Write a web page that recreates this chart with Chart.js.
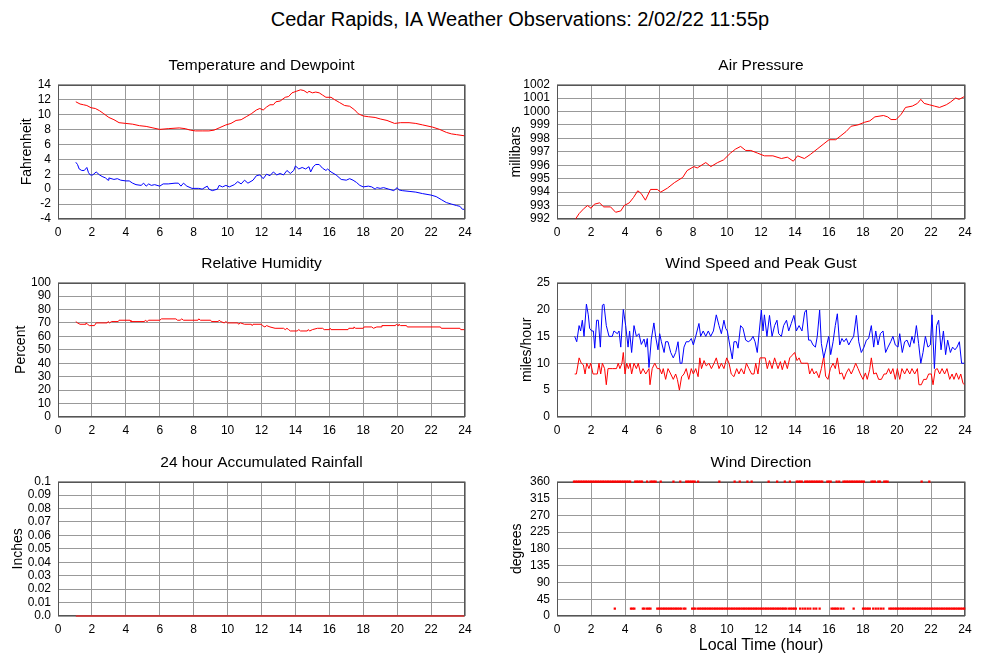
<!DOCTYPE html>
<html>
<head>
<meta charset="utf-8">
<script src="https://cdn.jsdelivr.net/npm/chart.js@4.4.1/dist/chart.umd.min.js"></script>
<style>
  body { margin: 0; background: #fff; width: 1000px; height: 660px; position: relative; overflow: hidden;
         font-family: "Liberation Sans", Arial, sans-serif; color: #000; }
  canvas { position: absolute; }
  #title { position: absolute; left: 0; width: 1040px; top: 7px; text-align: center; font-size: 20px; line-height: 24px; }
  #xlab { position: absolute; left: 661px; width: 200px; top: 636px; text-align: center; font-size: 16px; line-height: 18px; }
</style>
</head>
<body>
<div id="title">Cedar Rapids, IA Weather Observations: 2/02/22 11:55p</div>
<canvas id="temp" width="480" height="194" style="left:0;top:50px"></canvas>
<canvas id="pres" width="500" height="194" style="left:490px;top:50px"></canvas>
<canvas id="rh" width="480" height="194" style="left:0;top:248px"></canvas>
<canvas id="wind" width="500" height="194" style="left:490px;top:248px"></canvas>
<canvas id="rain" width="480" height="194" style="left:0;top:447px"></canvas>
<canvas id="dir" width="500" height="194" style="left:490px;top:447px"></canvas>
<div id="xlab">Local Time (hour)</div>
<script>
// ---- data (hours after midnight, local time) ----
const tempTime = [1.05,1.3,1.5,1.7,1.95,2.2,2.45,2.7,3.0,3.3,3.6,4.0,4.4,4.8,5.2,5.6,6.0,6.5,7.15,7.5,7.8,8.1,8.5,8.9,9.2,9.5,9.9,10.2,10.5,10.8,11.1,11.4,11.7,11.9,12.1,12.3,12.5,12.7,12.85,13.1,13.4,13.6,13.8,14.05,14.3,14.5,14.7,14.8,15.0,15.2,15.4,15.6,15.8,16.1,16.3,16.6,16.9,17.2,17.5,17.7,18.0,18.3,18.7,19.0,19.4,19.85,20.2,20.7,21.1,21.5,22.1,22.5,22.9,23.2,23.5,23.95];
const tempF = [11.7,11.4,11.3,11.2,10.9,10.8,10.5,10.1,9.6,9.3,8.9,8.8,8.7,8.5,8.4,8.2,8.0,8.1,8.2,8.1,7.9,7.8,7.8,7.8,7.9,8.2,8.6,8.8,9.2,9.3,9.7,10.1,10.6,10.8,10.6,11.0,11.3,11.3,11.7,11.8,12.3,12.4,12.9,13.1,13.3,13.2,12.9,13.1,12.9,13.0,12.9,12.6,12.3,12.3,12.0,11.6,11.2,11.1,10.6,10.1,9.8,9.7,9.6,9.4,9.2,8.8,8.9,8.9,8.8,8.6,8.3,8.0,7.6,7.4,7.3,7.15];

const dewTime = [1.05,1.15,1.25,1.4,1.55,1.7,1.8,1.9,2.05,2.25,2.45,2.6,2.8,2.95,3.0,3.3,3.5,3.7,4.0,4.2,4.4,4.6,4.9,5.05,5.2,5.35,5.5,5.7,6.0,6.2,6.5,6.9,7.1,7.25,7.4,7.6,7.9,8.3,8.5,8.8,8.9,9.1,9.4,9.5,9.7,9.9,10.1,10.4,10.6,10.8,11.0,11.2,11.5,11.7,11.9,12.1,12.3,12.5,12.7,12.9,13.1,13.3,13.5,13.7,13.9,14.0,14.2,14.4,14.6,14.8,14.9,15.05,15.2,15.4,15.6,15.8,15.9,16.1,16.4,16.7,17.0,17.2,17.4,17.6,17.8,18.0,18.3,18.5,18.7,18.8,19.0,19.2,19.5,19.8,20.0,20.1,20.3,20.7,21.1,21.5,22.0,22.3,22.6,22.9,23.2,23.5,23.7,23.85,23.95];
const dewF = [3.6,3.3,2.7,2.5,2.5,2.9,2.2,1.9,1.9,2.3,1.9,1.7,1.5,1.2,1.5,1.3,1.4,1.2,1.1,1.1,0.8,0.6,0.5,0.8,0.4,0.7,0.5,0.6,0.4,0.7,0.7,0.8,0.8,0.4,0.8,0.4,0.1,0.1,0.0,0.4,0.0,-0.2,0.0,0.5,0.3,0.5,0.3,0.6,1.0,0.7,1.2,0.8,1.2,1.8,1.9,1.4,2.0,1.8,2.3,1.9,2.1,1.9,2.5,2.1,2.5,3.1,2.7,2.9,2.7,3.0,2.3,3.0,3.3,3.3,2.8,2.5,2.7,2.3,1.9,1.3,1.2,1.4,1.2,0.9,0.5,0.3,0.4,0.3,0.0,0.2,0.1,0.2,0.0,-0.2,0.2,-0.1,-0.2,-0.3,-0.4,-0.6,-0.8,-1.0,-1.4,-1.8,-2.0,-2.2,-2.3,-2.7,-2.7];

const presTime = [1.04,1.3,1.6,1.8,2.0,2.2,2.5,2.75,3.15,3.45,3.75,3.95,4.25,4.5,4.75,4.95,5.2,5.5,5.9,6.1,6.5,6.9,7.4,7.65,8.05,8.25,8.75,9.05,9.45,9.8,10.2,10.5,10.8,11.1,11.4,11.8,12.2,12.7,13.2,13.55,13.9,14.15,14.55,14.9,15.3,15.7,16.0,16.4,16.7,17.0,17.3,17.7,18.1,18.4,18.7,19.2,19.45,19.65,19.95,20.25,20.5,20.9,21.2,21.4,21.6,21.9,22.2,22.5,22.9,23.15,23.45,23.65,23.95];
const presMb = [991.9,992.4,992.8,993.0,992.8,993.1,993.2,992.9,992.9,992.5,992.6,993.0,993.2,993.6,994.1,993.9,993.4,994.2,994.2,994.0,994.3,994.7,995.1,995.6,995.9,995.8,996.2,995.9,996.2,996.4,996.9,997.2,997.4,997.1,997.1,996.9,996.7,996.7,996.5,996.6,996.3,996.7,996.5,996.8,997.2,997.6,997.9,997.9,998.2,998.5,998.9,999.0,999.2,999.3,999.6,999.7,999.6,999.4,999.4,999.8,1000.3,1000.4,1000.6,1000.9,1000.6,1000.5,1000.4,1000.3,1000.5,1000.7,1001.0,1000.9,1001.1];

const rhTime = [1.05,1.15,1.3,1.6,1.65,1.75,1.85,2.15,2.25,2.9,2.95,3.05,3.15,3.55,3.6,4.25,4.3,5.1,5.15,5.25,5.35,6.0,6.1,6.95,7.05,7.2,7.3,7.4,8.25,8.3,8.4,9.0,9.05,9.45,9.5,9.6,9.8,9.9,10.0,10.6,10.65,10.75,11.0,11.4,11.45,11.5,12.0,12.05,12.2,12.3,12.5,12.8,13.3,13.4,13.5,13.6,13.7,14.1,14.2,14.3,14.7,14.75,14.85,15.0,15.3,15.6,15.7,16.0,16.05,16.1,17.1,17.15,17.4,17.45,17.55,18.0,18.05,18.5,18.6,18.8,19.05,19.1,19.9,19.95,20.05,20.1,20.2,20.55,20.6,22.55,22.6,23.7,23.75,23.95];
const rhPct = [71,70,69,69,70,69,68,68,70,70,71,70,71,71,72,72,71,71,72,71,72,72,73,73,72,72,73,72,72,73,72,72,71,71,72,71,70,71,70,70,69,70,69,69,68,69,69,68,67,68,67,66,66,65,66,65,64,64,65,64,64,65,64,65,66,66,65,65,66,65,65,66,66,67,66,66,67,67,66,67,67,68,68,69,68,69,68,68,67,67,66,66,65,65];

const gustTime = [1.04,1.16,1.3,1.39,1.49,1.59,1.73,1.84,1.92,2.04,2.14,2.22,2.33,2.43,2.55,2.67,2.76,2.9,3.06,3.25,3.35,3.55,3.65,3.75,3.9,4.04,4.18,4.27,4.39,4.53,4.67,4.82,4.96,5.12,5.22,5.31,5.41,5.55,5.7,5.8,5.94,6.04,6.14,6.3,6.39,6.53,6.69,6.84,6.98,7.12,7.24,7.35,7.47,7.6,7.76,7.9,8.02,8.16,8.35,8.45,8.6,8.75,8.9,9.04,9.2,9.37,9.53,9.67,9.82,9.92,10.02,10.16,10.31,10.41,10.55,10.65,10.8,10.94,11.1,11.25,11.4,11.53,11.65,11.78,11.9,12.02,12.12,12.2,12.35,12.5,12.65,12.8,12.94,13.04,13.2,13.33,13.5,13.63,13.78,13.94,14.08,14.24,14.41,14.57,14.67,14.8,14.92,15.06,15.2,15.31,15.45,15.55,15.69,15.84,15.98,16.1,16.24,16.37,16.49,16.63,16.76,16.88,17.02,17.16,17.31,17.45,17.61,17.75,17.9,18.06,18.2,18.33,18.49,18.63,18.75,18.88,19.02,19.18,19.33,19.47,19.63,19.76,19.9,20.06,20.16,20.31,20.45,20.59,20.75,20.88,21.0,21.14,21.27,21.4,21.53,21.67,21.82,21.96,22.06,22.2,22.33,22.45,22.59,22.73,22.86,22.98,23.14,23.27,23.41,23.53,23.67,23.8,23.96];
const gustMph = [15,14,17,16,18,15,21,19,16.5,16,16,12.8,18,18,13,20.8,21,17,15,15,16,15.5,16,13,20,17,13,16,12,17,15,15.5,13.5,14.5,13,14.6,9.2,14.5,17.5,15,12.5,15.5,14,12,14,14,12,11,12,14,10,10,13,14,14,14.6,13.4,15,17.4,15,16,15,16,15,16,19,17,15.5,18,16.5,16,13.4,10.8,14,14,12.8,17,16.5,14.3,14,14.3,15,14,12,16,19.9,16,19,15,18.9,15,17,18,15.5,15,17,18,16,17.4,18.9,16,17,16,19.5,19.9,14.3,14.3,13.4,13,15,19.9,13.7,11,13,15,11.6,14,17,19.2,13.4,14.6,14,14.6,13.4,14.3,15,18.9,14,12,13,14.3,14.6,17,13,16,13.4,15.5,16,12,13,14,15,13.4,13,15.5,12,14,14.3,13,15,13.7,17,13.7,10,12,15,13,13.4,19,9,17,18,12.5,16,11.6,14.3,12,13,12.5,13,14,10,10];

const speedTime = [1.04,1.14,1.3,1.43,1.55,1.65,1.75,1.88,1.98,2.12,2.27,2.37,2.47,2.57,2.67,2.8,2.9,3.0,3.25,3.5,3.6,3.7,3.82,3.9,4.0,4.1,4.2,4.3,4.39,4.53,4.67,4.78,4.92,5.06,5.22,5.41,5.47,5.6,5.75,5.9,6.04,6.16,6.25,6.39,6.53,6.69,6.84,6.98,7.08,7.2,7.33,7.47,7.6,7.75,7.9,8.02,8.16,8.3,8.4,8.5,8.65,8.78,8.94,9.08,9.24,9.37,9.53,9.67,9.82,9.98,10.12,10.25,10.41,10.57,10.7,10.84,11.0,11.14,11.29,11.45,11.59,11.69,11.82,11.94,12.12,12.25,12.37,12.5,12.65,12.8,12.9,13.0,13.14,13.25,13.4,13.55,13.69,13.84,13.98,14.12,14.24,14.37,14.57,14.76,14.86,15.0,15.12,15.25,15.41,15.55,15.69,15.8,15.94,16.08,16.24,16.37,16.49,16.63,16.76,16.88,17.02,17.16,17.31,17.45,17.57,17.71,17.84,18.0,18.14,18.25,18.39,18.49,18.63,18.78,18.92,19.08,19.24,19.37,19.51,19.63,19.76,19.9,20.02,20.16,20.29,20.45,20.59,20.75,20.88,21.04,21.2,21.29,21.43,21.57,21.73,21.86,22.02,22.12,22.25,22.37,22.51,22.65,22.8,22.94,23.1,23.24,23.35,23.49,23.63,23.75,23.88,23.96];
const speedMph = [8,8,11,10,9.7,8,10,9,10,8,8,8,10,8,10,9,6,9,9,9,10,9,10,12,8,10,9,10,8,10,9,10,8,9,8,9,6,9,10,9,9,8,9,7,9,8,7,8,7,5,7.5,8,9,7,9,8,9,7.5,11,9,10.5,9.5,10,9,10,11,9,10,9,11,10,8,7.5,9,8,9,8,10,9,8,8,10,8,11,11,11,9,10.5,9,11,10,9,10.3,8.8,10.5,9,11,11.5,12,10.5,11,10,10,10,8,9,8,8.5,7.3,9,11.3,7.6,7,9,10,9,11,8,8.2,7,8.2,9,8,9,10,9,8,7,8.2,7,8.8,11,8,8.2,7,7,8,8,9,8,9,7,9,7,9,8,9,8,9,8,9,6,6,7,7,8,8,6,8.8,9,8,9,8,9,7,8,7,8.2,7,8,6.3,6];

const rainTime = [1.05,6,12,18,23.95];
const rainIn = [0,0,0,0,0];

const dirNorthTime = [1.0,1.1,1.2,1.3,1.4,1.5,1.6,1.7,1.8,1.9,2.0,2.1,2.2,2.3,2.4,2.5,2.6,2.7,2.8,2.9,3.0,3.1,3.2,3.3,3.4,3.5,3.6,3.7,3.8,3.9,4.0,4.1,4.2,4.3,4.6,4.7,4.8,4.9,5.0,5.3,5.5,5.6,5.7,5.8,6.1,6.85,7.25,7.6,7.7,7.8,7.9,8.0,8.1,8.3,9.55,10.45,10.75,11.2,11.45,12.45,12.95,13.4,13.7,14.1,14.2,14.3,14.4,14.6,14.7,14.8,14.9,15.0,15.1,15.2,15.3,15.4,15.5,15.6,15.9,16.0,16.1,16.45,16.6,16.85,16.95,17.05,17.15,17.25,17.35,17.45,17.55,17.65,17.75,17.85,17.95,18.05,18.5,18.6,18.7,18.9,19.0,19.25,19.35,19.45,21.45,21.9];
const dirNorthDeg = dirNorthTime.map(() => 360);
const dirNneTime = [3.4,4.35,4.45,4.55,5.05,5.15,5.3,5.4,5.5,5.9,6.0,6.1,6.2,6.3,6.4,6.5,6.6,6.7,6.8,6.9,7.0,7.1,7.2,7.3,7.45,7.55,7.95,8.05,8.15,8.3,8.4,8.5,8.6,8.7,8.8,8.9,9.0,9.1,9.2,9.3,9.4,9.5,9.6,9.7,9.8,9.9,10.0,10.1,10.2,10.3,10.4,10.5,10.6,10.7,10.8,10.9,11.0,11.1,11.2,11.3,11.4,11.5,11.6,11.7,11.8,11.9,12.0,12.1,12.2,12.3,12.4,12.5,12.6,12.7,12.8,12.9,13.0,13.1,13.2,13.3,13.4,13.5,13.65,13.75,13.85,13.95,14.05,14.3,14.45,14.6,14.75,14.9,15.1,15.25,15.45,16.15,16.25,16.35,16.45,16.55,16.7,16.85,17.45,18.0,18.1,18.2,18.3,18.4,18.6,18.75,18.9,19.05,19.2,19.55,19.65,19.75,19.85,19.95,20.05,20.15,20.25,20.35,20.45,20.55,20.65,20.75,20.85,20.95,21.05,21.15,21.25,21.35,21.45,21.55,21.65,21.75,21.85,21.95,22.05,22.15,22.25,22.35,22.45,22.55,22.65,22.75,22.85,22.95,23.05,23.15,23.25,23.35,23.45,23.55,23.65,23.75,23.85,23.95];
const dirNneDeg = dirNneTime.map(() => 20);

// tick labels
const hourTicks = [0,2,4,6,8,10,12,14,16,18,20,22,24];
const tempTicks = [-4,-2,0,2,4,6,8,10,12,14];
const presTicks = [992,993,994,995,996,997,998,999,1000,1001,1002];
const rhTicks = [0,10,20,30,40,50,60,70,80,90,100];
const windTicks = [0,5,10,15,20,25];
const rainTicks = [0,0.01,0.02,0.03,0.04,0.05,0.06,0.07,0.08,0.09,0.1];
const rainLabels = ['0.0','0.01','0.02','0.03','0.04','0.05','0.06','0.07','0.08','0.09','0.1'];
const dirTicks = [0,45,90,135,180,225,270,315,360];

// ---- helpers ----
const pts = (xs, ys) => xs.map((x, i) => ({ x, y: ys[i] }));
Chart.defaults.font.family = '"Liberation Sans", Arial, sans-serif';
Chart.defaults.color = '#000';

const frame = {
  id: 'frame',
  beforeDatasetsDraw(c) {
    const a = c.chartArea, ctx = c.ctx;
    ctx.save();
    ctx.strokeStyle = '#555';
    ctx.lineWidth = 1;
    ctx.strokeRect(Math.round(a.left) + 0.5, Math.round(a.top) + 0.5,
                   Math.round(a.right - a.left) - 1, Math.round(a.bottom - a.top) - 1);
    ctx.restore();
  }
};

function line(data, color) {
  return { data, borderColor: color, backgroundColor: color, borderWidth: 1, pointRadius: 0, fill: false, tension: 0 };
}

function panel(id, title, yTitle, titlePad, yTicks, datasets, axisW, padRight, labels) {
  return new Chart(document.getElementById(id), {
    type: 'line',
    data: { datasets },
    plugins: [frame],
    options: {
      responsive: false,
      animation: false,
      devicePixelRatio: 1,
      layout: { padding: { top: 6, right: padRight, bottom: 0, left: 0 } },
      plugins: {
        legend: { display: false },
        tooltip: { enabled: false },
        title: { display: true, fullSize: false, text: title, color: '#000',
                 font: { size: 15.5, weight: 'normal' }, padding: { top: 0, bottom: 10 } }
      },
      scales: {
        x: {
          type: 'linear', min: 0, max: 24,
          afterBuildTicks: s => { s.ticks = hourTicks.map(v => ({ value: v })); },
          afterFit: s => { s.height = 25; },
          grid: { color: '#999', drawTicks: false },
          border: { display: false },
          ticks: { font: { size: 12 }, padding: 6, maxRotation: 0, autoSkip: false, callback: v => String(v) }
        },
        y: {
          min: yTicks[0], max: yTicks[yTicks.length - 1],
          afterBuildTicks: s => { s.ticks = yTicks.map(v => ({ value: v })); },
          afterFit: s => { s.width = axisW; },
          grid: { color: '#999', drawTicks: false },
          border: { display: false },
          title: { display: true, text: yTitle, color: '#000', font: { size: 14 }, padding: { top: titlePad, bottom: 0 } },
          ticks: { font: { size: 12 }, padding: 7, autoSkip: false,
                   callback: (v, i) => labels ? labels[i] : String(v) }
        }
      }
    }
  });
}

panel('temp', 'Temperature and Dewpoint', 'Fahrenheit', 19, tempTicks,
  [line(pts(tempTime, tempF), '#ff0000'), line(pts(dewTime, dewF), '#0000ff')], 58, 15);

panel('pres', 'Air Pressure', 'millibars', 17.5, presTicks,
  [line(pts(presTime, presMb), '#ff0000')], 67, 25);

panel('rh', 'Relative Humidity', 'Percent', 12.5, rhTicks,
  [line(pts(rhTime, rhPct), '#ff0000')], 58, 15);

panel('wind', 'Wind Speed and Peak Gust', 'miles/hour', 28.5, windTicks,
  [line(pts(gustTime, gustMph), '#0000ff'), line(pts(speedTime, speedMph), '#ff0000')], 67, 25);

panel('rain', '24 hour Accumulated Rainfall', 'Inches', 10, rainTicks,
  [Object.assign(line(pts(rainTime, rainIn), '#e03030'), { clip: 2, borderWidth: 1.5 })], 58, 15, rainLabels);

const dotStyle = { showLine: false, clip: 4, pointStyle: 'rect', pointRadius: 1.6, pointBorderWidth: 0,
                   backgroundColor: '#ff0000', borderColor: '#ff0000' };
panel('dir', 'Wind Direction', 'degrees', 18.5, dirTicks,
  [Object.assign({ data: pts(dirNorthTime, dirNorthDeg) }, dotStyle),
   Object.assign({ data: pts(dirNneTime, dirNneDeg) }, dotStyle)], 67, 25);
</script>
</body>
</html>
